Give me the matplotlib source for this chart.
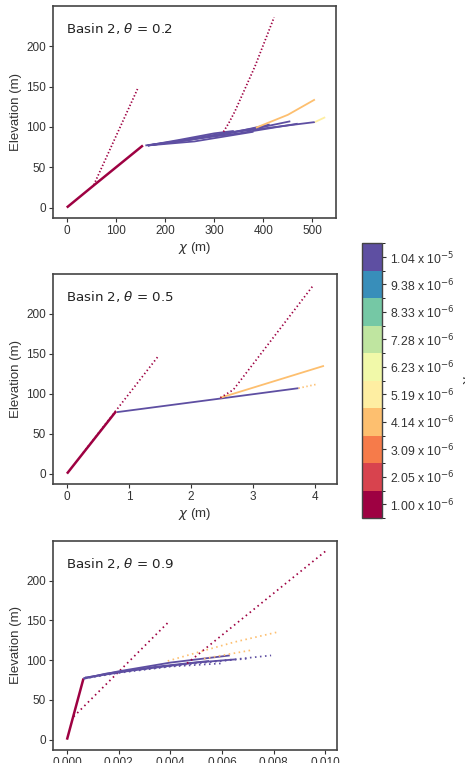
import numpy as np
import matplotlib
matplotlib.use("Agg")
import matplotlib.pyplot as plt
from matplotlib.colors import BoundaryNorm
from matplotlib.cm import ScalarMappable

plt.rcParams['font.family'] = ['Liberation Sans', 'DejaVu Sans']
plt.rcParams['mathtext.fontset'] = 'dejavusans'

# ---- colour scale (K values at bin centres) ----
K_TICKS = [1.00e-6, 2.05e-6, 3.09e-6, 4.14e-6, 5.19e-6, 6.23e-6,
           7.28e-6, 8.33e-6, 9.38e-6, 1.04e-5]
K_TICK_LABELS = [r"1.00 x 10$^{-6}$", r"2.05 x 10$^{-6}$", r"3.09 x 10$^{-6}$",
                 r"4.14 x 10$^{-6}$", r"5.19 x 10$^{-6}$", r"6.23 x 10$^{-6}$",
                 r"7.28 x 10$^{-6}$", r"8.33 x 10$^{-6}$", r"9.38 x 10$^{-6}$",
                 r"1.04 x 10$^{-5}$"]

# ---- panel 1: theta = 0.2 ----
P1_CHI = [[0, 52, 155], [55, 144],
          [160, 220, 320, 505], [165, 250, 330, 400, 455], [165, 240, 330, 413],
          [165, 260, 350, 470], [165, 230, 300, 340], [165, 260, 330, 380],
          [385, 450, 505], [505, 526],
          [319, 330, 342, 383, 422]]
P1_Z = [[0, 26, 77], [28, 147],
        [77, 82, 92, 106], [77, 84, 93, 100, 107], [77, 83, 92, 103],
        [77, 85, 92, 104], [77, 84, 92, 95], [77, 82, 89, 94],
        [99, 115, 134], [106, 112],
        [94, 105, 119, 175, 236]]
P1_K = [1.00e-6, 1.00e-6, 1.04e-5, 1.04e-5, 1.04e-5, 1.04e-5, 1.04e-5, 1.04e-5,
        4.14e-6, 5.19e-6, 1.00e-6]
P1_DOTTED = [False, True, False, False, False, False, False, False, False, False, True]

# ---- panel 2: theta = 0.5 ----
P2_CHI = [[0, 0.79], [0.26, 1.46],
          [0.805, 2.47, 3.73], [3.73, 4.03],
          [2.47, 4.14],
          [2.47, 2.68, 3.97]]
P2_Z = [[0, 78], [26, 146],
        [77, 94, 107], [107, 112],
        [95, 135],
        [95, 105, 236]]
P2_K = [1.00e-6, 1.00e-6, 1.04e-5, 4.14e-6, 4.14e-6, 1.00e-6]
P2_DOTTED = [False, True, False, True, False, True]

# ---- panel 3: theta = 0.9 (chi in 1e-3 m) ----
P3_CHI = [[0, 0.64], [0.26, 3.9],
          [0.64, 2.0, 4.0, 6.3], [0.70, 2.0, 4.5, 7.0], [0.70, 2.2, 5.0, 7.9],
          [0.70, 2.5, 5.0, 6.5], [0.64, 1.5, 3.5, 5.5], [0.66, 2.0, 4.0, 6.0],
          [3.9, 5.4, 6.5, 8.1], [5.3, 7.2],
          [4.65, 10.0]]
P3_Z = [[0, 77], [29, 147],
        [77, 86, 97, 106], [77, 85, 95, 102], [78, 86, 96, 106],
        [78, 87, 97, 101], [77, 83, 92, 99], [77, 84, 92, 96],
        [99, 113, 123, 135], [102, 113],
        [96, 237]]
P3_K = [1.00e-6, 1.00e-6, 1.04e-5, 1.04e-5, 1.04e-5, 1.04e-5, 1.04e-5, 1.04e-5,
        4.14e-6, 4.14e-6, 1.00e-6]
P3_DOTTED = [False, True, False, True, True, False, False, True, True, True, True]

THETAS = ["0.2", "0.5", "0.9"]

step = K_TICKS[1] - K_TICKS[0]
bounds = [K_TICKS[0] - step / 2] + [k + step / 2 for k in K_TICKS]
cmap = plt.get_cmap('Spectral', len(K_TICKS))
norm = BoundaryNorm(bounds, cmap.N)

W, H = 465, 763
fig = plt.figure(figsize=(W / 100, H / 100), dpi=100)

def px_axes(l, t, r, b):
    return fig.add_axes([l / W, 1 - b / H, (r - l) / W, (b - t) / H])

axes = [px_axes(53, 6, 336, 218), px_axes(53, 274, 337, 484), px_axes(53, 541, 337, 750)]

panels = [(P1_CHI, P1_Z, P1_K, P1_DOTTED, 1.0),
          (P2_CHI, P2_Z, P2_K, P2_DOTTED, 1.0),
          (P3_CHI, P3_Z, P3_K, P3_DOTTED, 1e-3)]
xlims = [(-28, 548), (-0.225, 4.35), (-0.54e-3, 10.45e-3)]
xticks = [[0, 100, 200, 300, 400, 500], [0, 1, 2, 3, 4],
          [0, 0.002, 0.004, 0.006, 0.008, 0.010]]
xticklabels = [["0", "100", "200", "300", "400", "500"], ["0", "1", "2", "3", "4"],
               ["0.000", "0.002", "0.004", "0.006", "0.008", "0.010"]]
dot_styles = [(0, (0.8, 1.2)), (0, (0.8, 1.5)), (0, (0.9, 2.0))]

for i, ax in enumerate(axes):
    chis, zs, ks, dots, scale = panels[i]
    for c, z, k, d in zip(chis, zs, ks, dots):
        col = cmap(norm(k))
        is_trunk = (k == 1.00e-6 and not d)
        lw = 1.8 if is_trunk else (1.3 if not d else 1.25)
        ax.plot(np.array(c) * scale, z, color=col, lw=lw,
                ls=dot_styles[i] if d else '-', solid_capstyle='butt', zorder=3)
    ax.set_xlim(*xlims[i])
    ax.set_ylim(-13, 250)
    ax.set_xticks(xticks[i])
    ax.set_xticklabels(xticklabels[i])
    ax.set_yticks([0, 50, 100, 150, 200])
    ax.set_ylabel("Elevation (m)", fontsize=9.5, color='#333333', labelpad=3)
    ax.set_xlabel(r"$\chi$ (m)", fontsize=9.5, color='#333333', labelpad=2)
    ax.tick_params(labelsize=8.5, colors='#333333', length=3, width=0.8, pad=2)
    for s in ax.spines.values():
        s.set_color('#444444')
        s.set_linewidth(1.2)
    ax.text(0.045, 0.93, r"Basin 2, $\theta$ = " + THETAS[i], transform=ax.transAxes,
            fontsize=9.6, color='#222222', va='top', ha='left',
            family=['DejaVu Sans'])

cax = px_axes(362, 243, 382, 518)
sm = ScalarMappable(norm=norm, cmap=cmap)
cb = fig.colorbar(sm, cax=cax, ticks=K_TICKS)
cb.set_ticklabels(K_TICK_LABELS)
cb.ax.tick_params(labelsize=8.8, colors='#333333', length=3, width=0.8, pad=3)
cb.outline.set_edgecolor('#444444')
cb.outline.set_linewidth(1.0)
cb.set_label(r"$K$", fontsize=9, color='#333333', rotation=270, labelpad=12)

fig.savefig("out.png", dpi=100)
